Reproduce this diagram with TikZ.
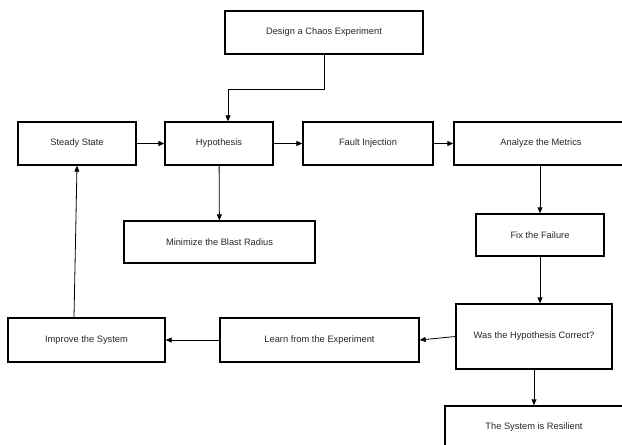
\documentclass[tikz,border=0pt]{standalone}
\usepackage{fontspec}
\setmainfont{Liberation Sans}
\usetikzlibrary{arrows.meta}
\begin{document}
\begin{tikzpicture}[x=1pt,y=-1pt,
	blk/.style={draw,line width=1.3pt,inner sep=0pt,minimum height=43pt,
		font=\fontsize{9.3}{11}\selectfont,text=black!85},
	flow/.style={line width=0.8pt,-{Triangle[length=6pt,width=5pt]}}]
\useasboundingbox (0,0) rectangle (622,445);
\path
	(324,32.5) node [blk,minimum width=198pt] (design) {Design a Chaos Experiment}
	(77,143.5) node [blk,minimum width=118pt] (steady) {Steady State}
	(219,143.5) node [blk,minimum width=108pt] (hyp) {Hypothesis}
	(368,143.5) node [blk,minimum width=130pt] (fault) {Fault Injection}
	(541,143.5) node [blk,minimum width=174pt] (analyze) {Analyze the Metrics}
	(219.5,242) node [blk,minimum width=191pt,minimum height=42pt] (blast) {Minimize the Blast Radius}
	(540,235) node [blk,minimum width=128pt,minimum height=42pt] (fix) {Fix the Failure}
	(534,336.5) node [blk,minimum width=156pt,minimum height=65pt] (correct) {Was the Hypothesis Correct?}
	(319.5,340) node [blk,minimum width=199pt,minimum height=44pt] (learn) {Learn from the Experiment}
	(86.5,340) node [blk,minimum width=157pt,minimum height=44pt] (improve) {Improve the System}
	(534,427) node [blk,minimum width=178pt,minimum height=42pt] (resilient) {The System is Resilient};
\draw [flow] (design.south) -- ++(0,35) -| ([xshift=9pt]hyp.north);
\draw [flow] (steady) -- (hyp);
\draw [flow] (hyp) -- (fault);
\draw [flow] (fault) -- (analyze);
\draw [flow] (hyp) -- (blast);
\draw [flow] (fix.north |- analyze.south) -- (fix.north);
\draw [flow] (fix.south) -- (fix.south |- correct.north);
\draw [flow] (correct.west) -- (learn.east);
\draw [flow] (learn) -- (improve);
\draw [flow] ([xshift=-12.5pt]improve.north) -- (steady.south);
\draw [flow] (correct.south) -- (resilient.north);
\end{tikzpicture}
\end{document}
